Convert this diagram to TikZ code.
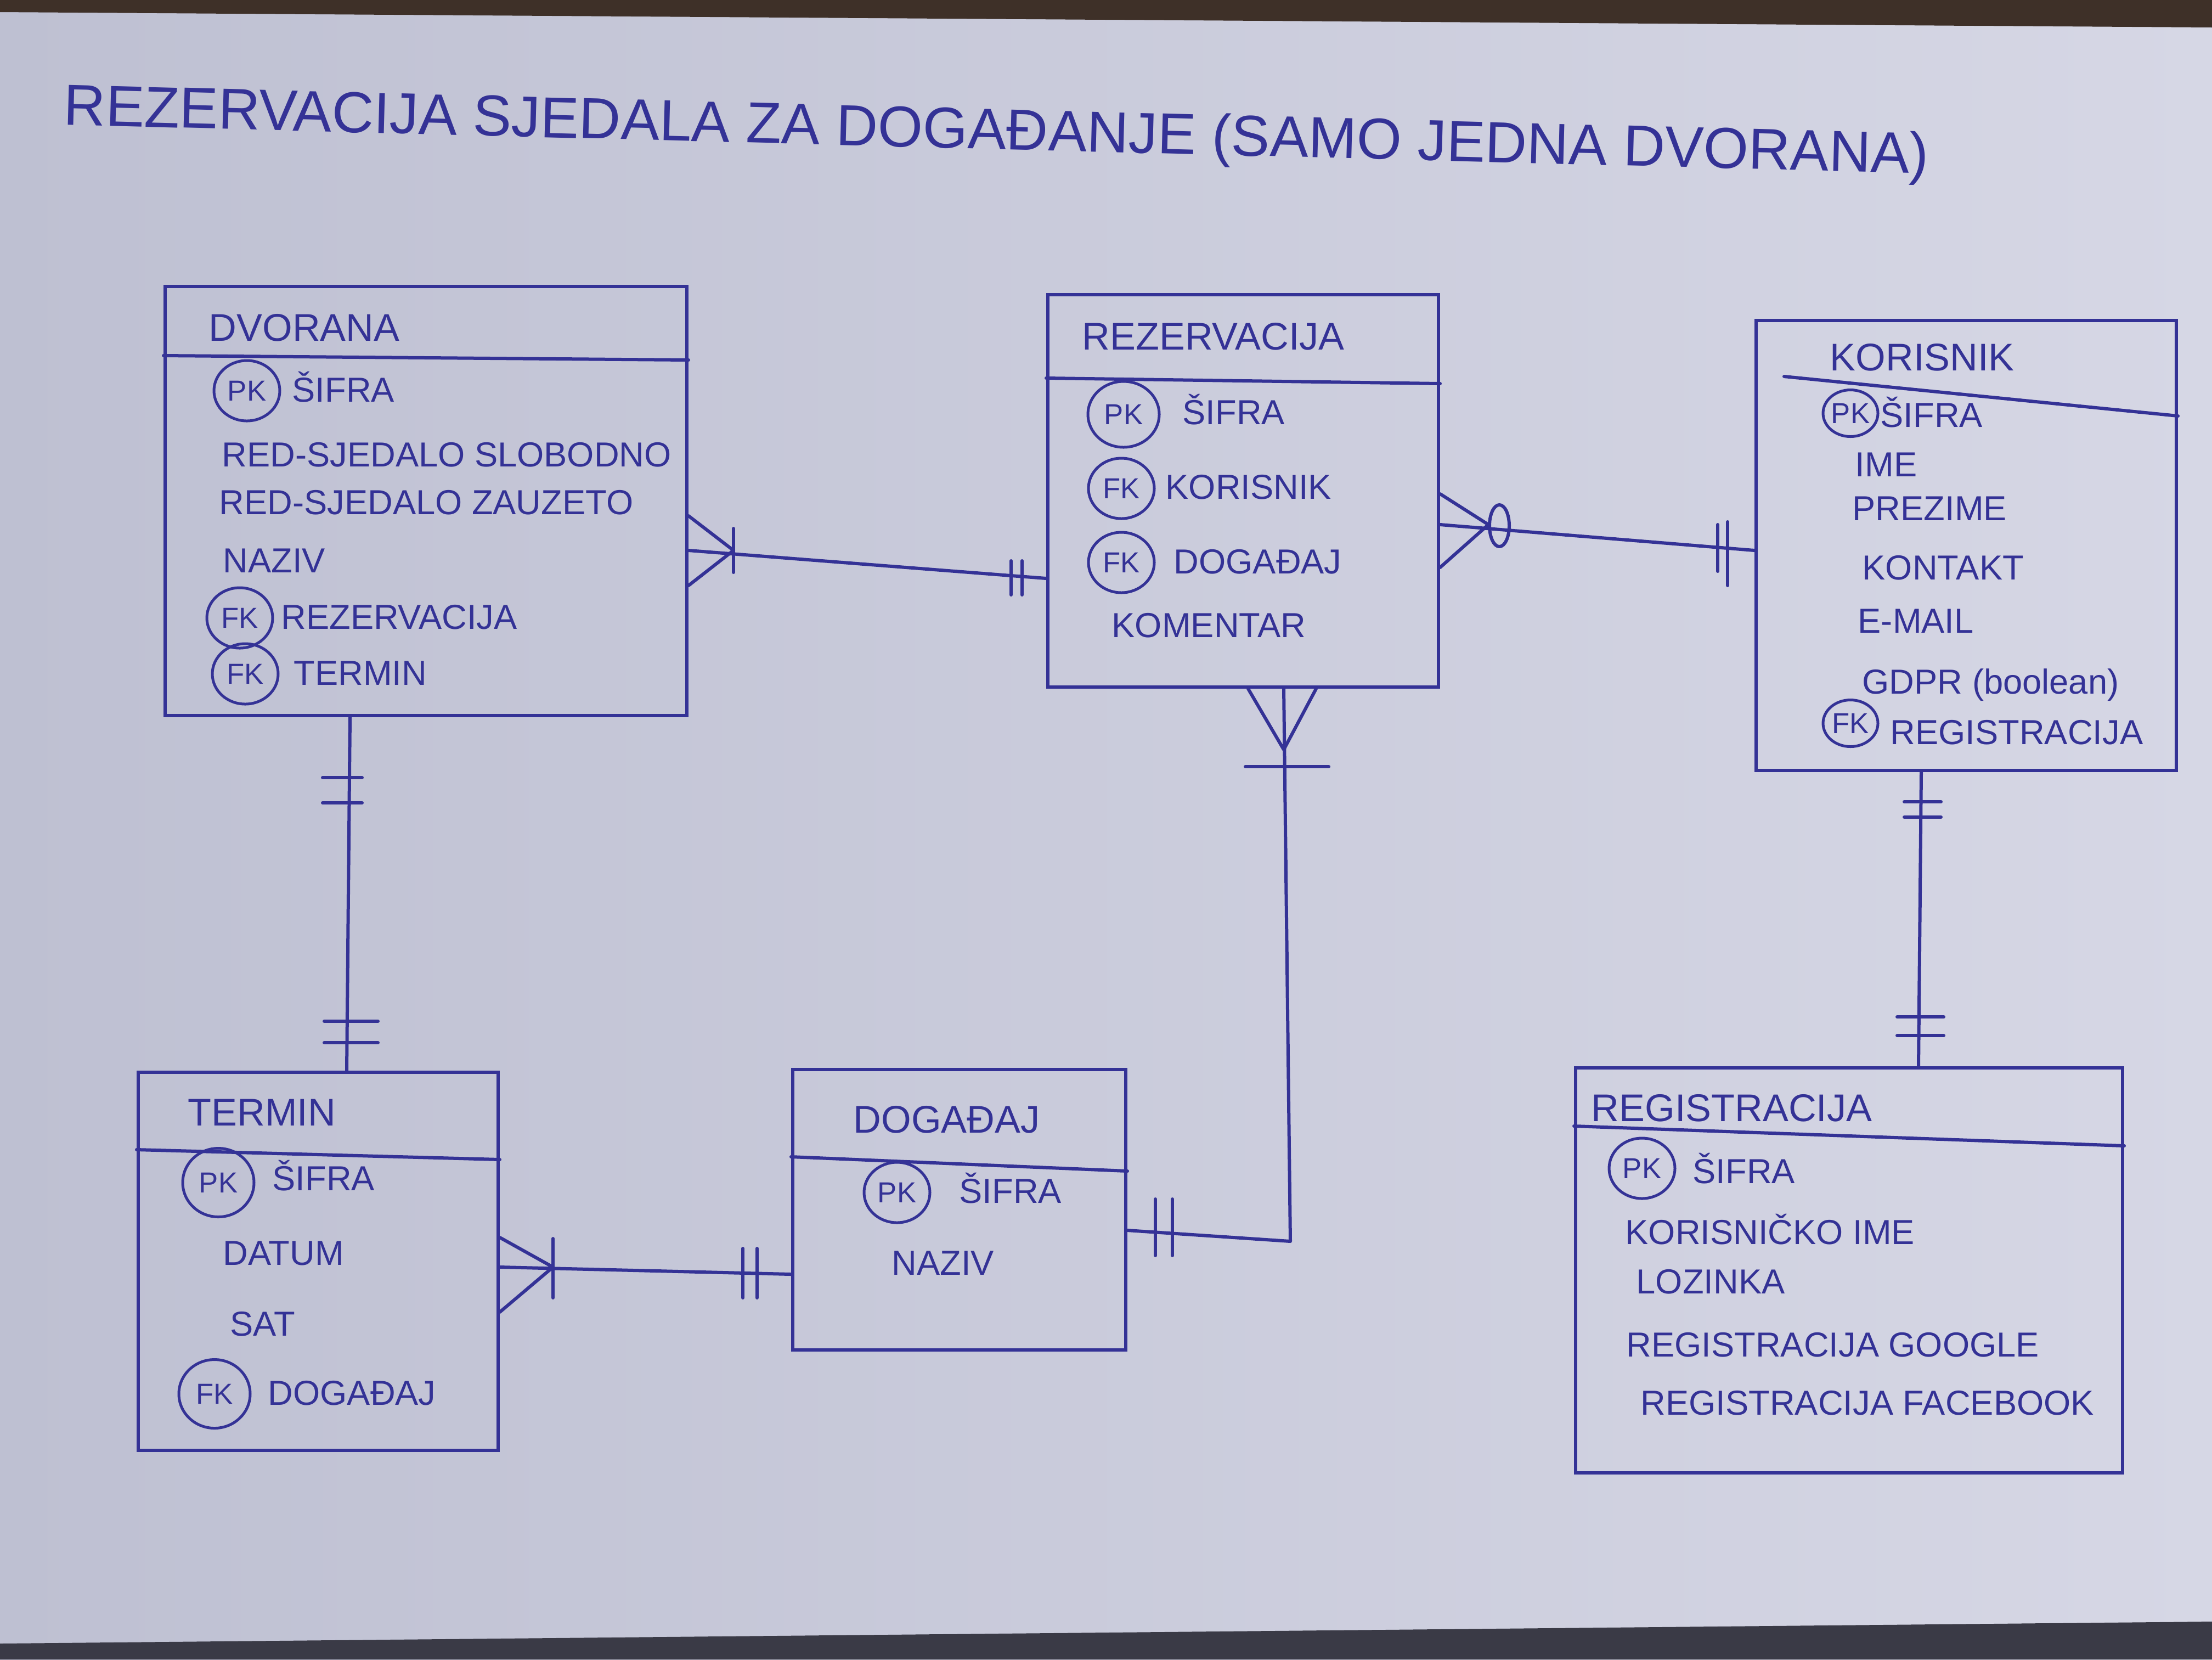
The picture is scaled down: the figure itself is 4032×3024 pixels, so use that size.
\documentclass[tikz,border=0pt]{standalone}
\usepackage{fontspec}
\setmainfont{Liberation Sans}
\usetikzlibrary{calc,fit,shapes.geometric}
\definecolor{ink}{RGB}{52,50,150}
\definecolor{paperL}{RGB}{190,192,210}
\definecolor{paperR}{RGB}{214,215,229}
\definecolor{edgeT}{RGB}{62,48,40}
\definecolor{edgeB}{RGB}{58,58,70}
\tikzset{
 ent/.style={draw=ink, line width=0.6mm, inner sep=0pt},
 ttl/.style={anchor=west, inner sep=0pt, text=ink, text height=14.3pt, text depth=0pt, font=\fontsize{20}{22}\selectfont},
 attr/.style={anchor=west, inner sep=0pt, text=ink, text height=12.9pt, text depth=0pt, font=\fontsize{18}{20}\selectfont},
 keyring/.style={ellipse, draw=ink, line width=0.5mm, inner sep=0pt, minimum width=12mm, minimum height=11mm, text=ink, font=\fontsize{15}{16}\selectfont},
 conn/.style={draw=ink, line width=0.6mm, line cap=round, line join=round},
}
\begin{document}
\begin{tikzpicture}[x=0.1mm, y=-0.1mm]
 \useasboundingbox (0,0) rectangle (4032,3024);
 % paper
 \shade[left color=paperL, right color=paperR] (0,0) rectangle (4032,3024);
 \fill[edgeT] (0,0) -- (4032,0) -- (4032,50) -- (0,22) -- cycle;
 \fill[edgeB] (0,2995) -- (4032,2955) -- (4032,3024) -- (0,3024) -- cycle;

 \node[anchor=west, inner sep=0pt, text=ink, font=\fontsize{30}{32}\selectfont, rotate=-1.5] (title) at (116,200)
  {REZERVACIJA SJEDALA ZA DOGAĐANJE (SAMO JEDNA DVORANA)};

 % entities
 \node[ent, fit={(301,522) (1252,1304)}] (dvorana) {};
 \node[ent, fit={(1910,537) (2622,1252)}] (rez) {};
 \node[ent, fit={(3201,584) (3967,1404)}] (korisnik) {};
 \node[ent, fit={(252,1954) (908,2643)}] (termin) {};
 \node[ent, fit={(1445,1949) (2052,2460)}] (dogadaj) {};
 \node[ent, fit={(2872,1946) (3869,2684)}] (registracija) {};

 % DVORANA
 \node[ttl] (dvT) at (380,596) {DVORANA};
 \draw[conn] (dvorana.west |- 0,648) -- (dvorana.east |- 0,656);
 \node[keyring] (dvK1) at (450,712) {PK};
 \node[attr] (dv1) at (532,710) {ŠIFRA};
 \node[attr] (dv2) at (404,828) {RED-SJEDALO SLOBODNO};
 \node[attr] (dv3) at (399,915) {RED-SJEDALO ZAUZETO};
 \node[attr] (dv4) at (406,1021) {NAZIV};
 \node[keyring] (dvK5) at (437,1126) {FK};
 \node[attr] (dv5) at (512,1124) {REZERVACIJA};
 \node[keyring] (dvK6) at (447,1228) {FK};
 \node[attr] (dv6) at (535,1226) {TERMIN};

 % REZERVACIJA
 \node[ttl] (rezT) at (1972,612) {REZERVACIJA};
 \draw[conn] (rez.west |- 0,689) -- (rez.east |- 0,699);
 \node[keyring, minimum width=13mm, minimum height=12mm] (rezK1) at (2048,755) {PK};
 \node[attr] (rez1) at (2155,751) {ŠIFRA};
 \node[keyring] (rezK2) at (2044,890) {FK};
 \node[attr] (rez2) at (2124,887) {KORISNIK};
 \node[keyring] (rezK3) at (2044,1025) {FK};
 \node[attr] (rez3) at (2139,1023) {DOGAĐAJ};
 \node[attr] (rez4) at (2026,1139) {KOMENTAR};

 % KORISNIK
 \node[ttl] (korT) at (3335,650) {KORISNIK};
 \draw[conn] (3252,686) -- (korisnik.east |- 0,758);
 \node[keyring, minimum width=10mm, minimum height=8.5mm] (korK1) at (3373,753) {PK};
 \node[attr] (kor1) at (3427,756) {ŠIFRA};
 \node[attr] (kor2) at (3381,846) {IME};
 \node[attr] (kor3) at (3376,926) {PREZIME};
 \node[attr] (kor4) at (3394,1034) {KONTAKT};
 \node[attr] (kor5) at (3386,1131) {E-MAIL};
 \node[attr] (kor6) at (3394,1242) {GDPR (boolean)};
 \node[keyring, minimum width=10mm, minimum height=8.5mm] (korK7) at (3373,1318) {FK};
 \node[attr] (kor7) at (3445,1334) {REGISTRACIJA};

 % TERMIN
 \node[ttl] (terT) at (342,2026) {TERMIN};
 \draw[conn] (termin.west |- 0,2095) -- (termin.east |- 0,2113);
 \node[keyring, minimum width=13mm, minimum height=12.5mm] (terK1) at (398,2155) {PK};
 \node[attr] (ter1) at (496,2147) {ŠIFRA};
 \node[attr] (ter2) at (406,2283) {DATUM};
 \node[attr] (ter3) at (419,2412) {SAT};
 \node[keyring, minimum width=13mm, minimum height=12.5mm] (terK4) at (391,2540) {FK};
 \node[attr] (ter4) at (488,2538) {DOGAĐAJ};

 % DOGAĐAJ
 \node[ttl] (dogT) at (1555,2039) {DOGAĐAJ};
 \draw[conn] (dogadaj.west |- 0,2108) -- (dogadaj.east |- 0,2134);
 \node[keyring] (dogK1) at (1635,2173) {PK};
 \node[attr] (dog1) at (1748,2170) {ŠIFRA};
 \node[attr] (dog2) at (1625,2301) {NAZIV};

 % REGISTRACIJA
 \node[ttl] (regT) at (2900,2018) {REGISTRACIJA};
 \draw[conn] (registracija.west |- 0,2052) -- (registracija.east |- 0,2088);
 \node[keyring] (regK1) at (2993,2129) {PK};
 \node[attr] (reg1) at (3085,2134) {ŠIFRA};
 \node[attr] (reg2) at (2962,2245) {KORISNIČKO IME};
 \node[attr] (reg3) at (2982,2335) {LOZINKA};
 \node[attr] (reg4) at (2964,2450) {REGISTRACIJA GOOGLE};
 \node[attr] (reg5) at (2990,2556) {REGISTRACIJA FACEBOOK};

 % dvorana -- rezervacija
 \coordinate (dr1) at (dvorana.east |- 0,1003);
 \coordinate (dr2) at (rez.west |- 0,1054);
 \draw[conn] (dr1) -- (dr2);
 \draw[conn] ($(dr1)+(0,-63)$) -- ($(dr1)+(82,0)$) -- ($(dr1)+(0,64)$);
 \draw[conn] ($(dr1)+(82,-40)$) -- ($(dr1)+(82,40)$);
 \draw[conn] ($(dr2)+(-64,-32)$) -- ($(dr2)+(-64,30)$);
 \draw[conn] ($(dr2)+(-44,-32)$) -- ($(dr2)+(-44,30)$);

 % rezervacija -- korisnik
 \coordinate (rk1) at (rez.east |- 0,956);
 \coordinate (rk2) at (korisnik.west |- 0,1003);
 \draw[conn] (rk1) -- (rk2);
 \draw[conn] ($(rk1)+(0,-56)$) -- ($(rk1)+(88,0)$) -- ($(rk1)+(0,78)$);
 \draw[conn] ($(rk1)+(108,2)$) ellipse [x radius=18, y radius=38];
 \draw[conn] ($(rk2)+(-67,-47)$) -- ($(rk2)+(-67,38)$);
 \draw[conn] ($(rk2)+(-49,-52)$) -- ($(rk2)+(-49,64)$);

 % dvorana -- termin
 \coordinate (dt1) at (dvorana.south -| 638,0);
 \coordinate (dt2) at (termin.north -| 632,0);
 \draw[conn] (dt1) -- (dt2);
 \draw[conn] ($(dt1)+(-50,110)$) -- ($(dt1)+(22,110)$);
 \draw[conn] ($(dt1)+(-50,156)$) -- ($(dt1)+(22,156)$);
 \draw[conn] ($(dt2)+(-41,-90)$) -- ($(dt2)+(57,-90)$);
 \draw[conn] ($(dt2)+(-41,-51)$) -- ($(dt2)+(57,-51)$);

 % termin -- dogadaj
 \coordinate (td1) at (termin.east |- 0,2309);
 \coordinate (td2) at (dogadaj.west |- 0,2322);
 \draw[conn] (td1) -- (td2);
 \draw[conn] ($(td1)+(0,-54)$) -- ($(td1)+(97,0)$) -- ($(td1)+(0,82)$);
 \draw[conn] ($(td1)+(97,-52)$) -- ($(td1)+(97,56)$);
 \draw[conn] ($(td2)+(-88,-47)$) -- ($(td2)+(-88,43)$);
 \draw[conn] ($(td2)+(-62,-47)$) -- ($(td2)+(-62,43)$);

 % rezervacija -- dogadaj
 \coordinate (rd1) at (rez.south -| 2340,0);
 \coordinate (rd2) at (dogadaj.east |- 0,2242);
 \coordinate (rd3) at (2352,2262);
 \draw[conn] (rd1) -- (rd3) -- (rd2);
 \draw[conn] ($(rd1)+(-65,0)$) -- ($(rd1)+(0,111)$) -- ($(rd1)+(59,0)$);
 \draw[conn] ($(rd1)+(-70,142)$) -- ($(rd1)+(82,142)$);
 \draw[conn] ($(rd2)+(51,-57)$) -- ($(rd2)+(51,46)$);
 \draw[conn] ($(rd2)+(82,-57)$) -- ($(rd2)+(82,46)$);

 % korisnik -- registracija
 \coordinate (kr1) at (korisnik.south -| 3502,0);
 \coordinate (kr2) at (registracija.north -| 3497,0);
 \draw[conn] (kr1) -- (kr2);
 \draw[conn] ($(kr1)+(-31,54)$) -- ($(kr1)+(36,54)$);
 \draw[conn] ($(kr1)+(-31,82)$) -- ($(kr1)+(36,82)$);
 \draw[conn] ($(kr2)+(-39,-90)$) -- ($(kr2)+(46,-90)$);
 \draw[conn] ($(kr2)+(-39,-56)$) -- ($(kr2)+(46,-56)$);
\end{tikzpicture}
\end{document}
